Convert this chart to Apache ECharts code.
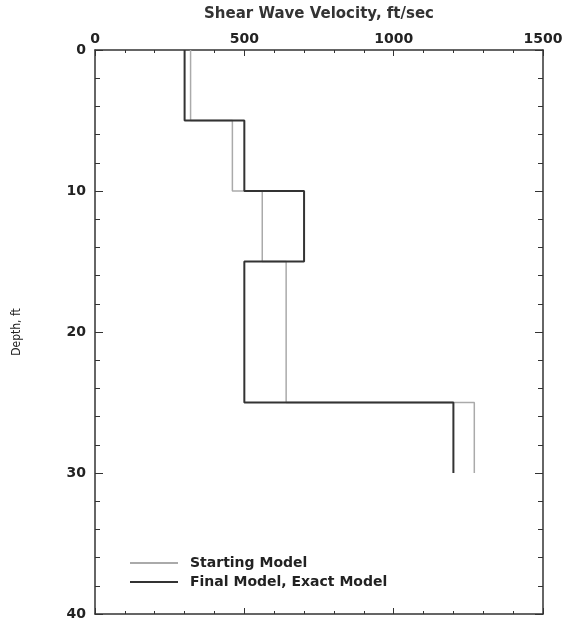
<!DOCTYPE html>
<html><head><meta charset="utf-8">
<script src="https://cdn.jsdelivr.net/npm/echarts@6/dist/echarts.min.js"></script>
<style>html,body{margin:0;padding:0;background:#fff}#c{width:573px;height:624px}</style>
</head><body><div id="c"></div>
<script>
const layerTop = [0, 5, 10, 15, 25];
const layerBottom = [5, 10, 15, 25, 30];
const startingModel = [320, 460, 560, 640, 1270];
const finalModel = [300, 500, 700, 500, 1200];
const xTicks = [0, 500, 1000, 1500];
const yTicks = [0, 10, 20, 30, 40];

function profile(v) {
  const pts = [];
  for (let i = 0; i < v.length; i++) {
    pts.push([v[i], layerTop[i]]);
    pts.push([v[i], layerBottom[i]]);
  }
  return pts;
}
const font = 'DejaVu Sans';
const chart = echarts.init(document.getElementById('c'));
const axLine = {show: true, onZero: false, lineStyle: {color: '#333', width: 1.5}};
function xAx(pos, labels) {
  return {type: 'value', position: pos, min: xTicks[0], max: xTicks[xTicks.length-1], interval: 500,
    axisLine: axLine,
    axisTick: {show: true, inside: true, length: 6, lineStyle: {color: '#333'}},
    minorTick: {show: true, splitNumber: 5, length: 3, lineStyle: {color: '#333'}},
    axisLabel: {show: labels, formatter: v => String(v), fontFamily: font, fontWeight: 'bold', fontSize: 14, color: '#222', margin: 4},
    splitLine: {show: false}};
}
function yAx(pos, labels) {
  return {type: 'value', inverse: true, position: pos, min: yTicks[0], max: yTicks[yTicks.length-1], interval: 10,
    axisLine: axLine,
    axisTick: {show: true, inside: true, length: 8, lineStyle: {color: '#333'}},
    minorTick: {show: true, splitNumber: 5, length: 5, lineStyle: {color: '#333'}},
    axisLabel: {show: labels, fontFamily: font, fontWeight: 'bold', fontSize: 14, color: '#222', margin: 9},
    splitLine: {show: false}};
}
const xTop = xAx('top', true);
xTop.name = 'Shear Wave Velocity, ft/sec';
xTop.nameLocation = 'middle';
xTop.nameGap = 28;
xTop.nameTextStyle = {fontFamily: font, fontWeight: 'bold', fontSize: 15, color: '#333'};
const yLeft = yAx('left', true);
yLeft.name = 'Depth, ft';
yLeft.nameLocation = 'middle';
yLeft.nameGap = 72;
yLeft.nameTextStyle = {fontFamily: 'DejaVu Sans Condensed', fontSize: 12, color: '#222'};

chart.setOption({
  animation: false,
  grid: {left: 95, right: 30, top: 50, bottom: 10, outerBoundsMode: 'none', containLabel: false},
  legend: {
    orient: 'vertical', left: 125, top: 551, itemWidth: 48, itemHeight: 2, itemGap: 5,
    icon: 'rect',
    textStyle: {fontFamily: font, fontWeight: 'bold', fontSize: 14, color: '#222', padding: [0, 0, 0, 7]},
    data: ['Starting Model', 'Final Model, Exact Model']
  },
  xAxis: [xTop, xAx('bottom', false)],
  yAxis: [yLeft, yAx('right', false)],
  series: [
    {name: 'Starting Model', type: 'line', data: profile(startingModel), symbol: 'none',
     lineStyle: {color: '#aaa', width: 1.5}, itemStyle: {color: '#aaa'}},
    {name: 'Final Model, Exact Model', type: 'line', data: profile(finalModel), symbol: 'none',
     lineStyle: {color: '#333', width: 2}, itemStyle: {color: '#333'}},
    {name: 'frame', type: 'line', xAxisIndex: 1, yAxisIndex: 1, data: [], symbol: 'none', silent: true}
  ]
});
</script></body></html>
